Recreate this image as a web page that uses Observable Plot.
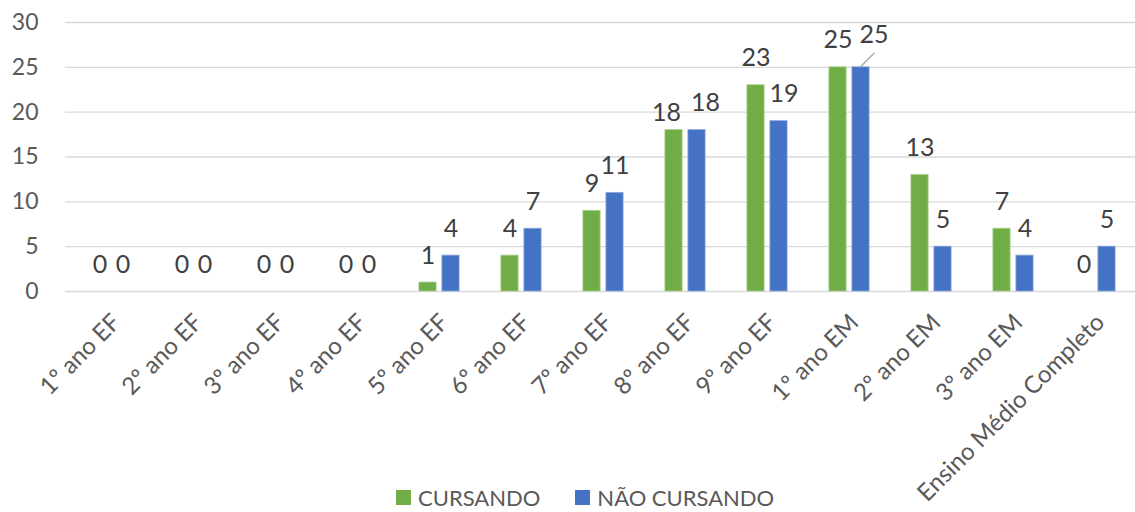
<!DOCTYPE html>
<html>
<head>
<meta charset="utf-8">
<script src="https://cdn.jsdelivr.net/npm/d3@7"></script>
<script src="https://cdn.jsdelivr.net/npm/@observablehq/plot@0.6"></script>
<style>
  html, body { margin: 0; padding: 0; background: #fff; overflow: hidden; }
  #wrap { position: relative; width: 1135px; height: 512px; }
  #legend { position: absolute; left: 396px; top: 484px; display: flex; align-items: center;
            font-family: Lato, "Noto Sans", sans-serif; font-size: 22px; color: #595959; }
  #legend .sw { width: 15px; height: 15px; display: inline-block; margin-right: 7px; }
  #legend .item { display: flex; align-items: center; margin-right: 35px; }
</style>
</head>
<body>
<div id="wrap">
  <div id="chart"></div>
  <div id="legend"></div>
</div>
<script>
const categories = ["1º ano EF","2º ano EF","3º ano EF","4º ano EF","5º ano EF","6º ano EF","7º ano EF","8º ano EF","9º ano EF","1º ano EM","2º ano EM","3º ano EM","Ensino Médio Completo"];
const seriesNames = ["CURSANDO", "NÃO CURSANDO"];
const cursando    = [0,0,0,0,1,4,9,18,23,25,13,7,0];
const naoCursando = [0,0,0,0,4,7,11,18,19,25,5,4,5];
const yTicks = [0,5,10,15,20,25,30];
const colors = ["#70AD47", "#4472C4"];

const green = categories.map((c, i) => ({cat: c, v: cursando[i], s: seriesNames[0]}));
const blue  = categories.map((c, i) => ({cat: c, v: naoCursando[i], s: seriesNames[1]}));

// label placement tweaks (styling, not data): category -> [dx, dy]
const greenNudge = {"8º ano EF": [-19, -9.5]};
const blueNudge  = {"8º ano EF": [20, -19], "9º ano EF": [16.5, -19], "1º ano EM": [24.5, -24]};
const leaderCats = ["1º ano EM"];

function labelMarks(data, nudge, baseDx) {
  const marks = [Plot.text(data.filter(d => !(d.cat in nudge)), {
    x: "cat", y: "v", text: d => String(d.v), dx: baseDx, dy: -19,
    lineAnchor: "bottom", fontSize: 25, fill: "#404040"})];
  for (const [cat, [dx, dy]] of Object.entries(nudge)) {
    marks.push(Plot.text(data.filter(d => d.cat === cat), {
      x: "cat", y: "v", text: d => String(d.v), dx, dy,
      lineAnchor: "bottom", fontSize: 25, fill: "#404040"}));
  }
  return marks;
}

function leader(index, scales) {
  const x = scales.x, y = scales.y;
  const bw = typeof x.bandwidth === "function" ? x.bandwidth() : x.bandwidth;
  const g = d3.create("svg:g");
  for (const d of blue.filter(d => leaderCats.includes(d.cat))) {
    const x0 = x(d.cat) + bw / 2 + 11.5;
    const y0 = y(d.v);
    g.append("line").attr("x1", x0).attr("y1", y0).attr("x2", x0 + 14).attr("y2", y0 - 14)
      .attr("stroke", "#a6a6a6").attr("stroke-width", 1.3);
  }
  return g.node();
}

const chart = Plot.plot({
  width: 1135,
  height: 512,
  marginLeft: 65,
  marginRight: -6,
  marginTop: 22,
  marginBottom: 221,
  style: {fontFamily: "Lato, 'Noto Sans', sans-serif", background: "#fff", overflow: "visible"},
  x: {domain: categories, padding: 0},
  y: {domain: [0, 30]},
  marks: [
    Plot.gridY(yTicks, {stroke: "#d9d9d9", strokeOpacity: 1, strokeWidth: 1.4}),
    Plot.axisY(yTicks, {tickSize: 0, tickPadding: 27, fontSize: 23, fill: "#595959", label: null}),
    Plot.axisX({tickSize: 0, tickRotate: -45, tickPadding: 27, dx: 5, fontSize: 24, fill: "#595959", label: null}),
    Plot.barY(green, {x: "cat", y: "v", fill: colors[0], stroke: "#a9d08e", strokeWidth: 0.8, insetLeft: 20.9, insetRight: 43.9}),
    Plot.barY(blue,  {x: "cat", y: "v", fill: colors[1], stroke: "#8ea9db", strokeWidth: 0.8, insetLeft: 43.9, insetRight: 20.9}),
    ...labelMarks(green, greenNudge, -11.5),
    ...labelMarks(blue, blueNudge, 11.5),
    leader
  ]
});
document.getElementById("chart").appendChild(chart);

const legend = document.getElementById("legend");
seriesNames.forEach((name, i) => {
  const item = document.createElement("span");
  item.className = "item";
  const sw = document.createElement("span");
  sw.className = "sw";
  sw.style.background = colors[i];
  item.appendChild(sw);
  item.appendChild(document.createTextNode(name));
  legend.appendChild(item);
});
</script>
</body>
</html>
